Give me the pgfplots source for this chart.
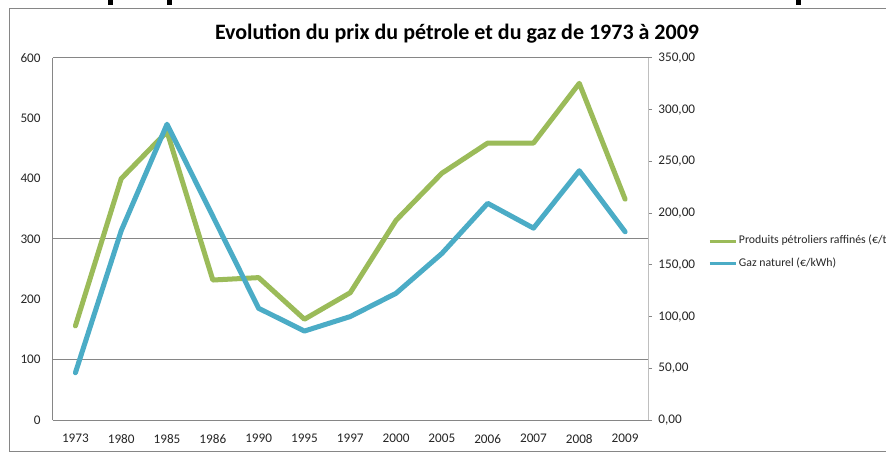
\documentclass[border=0pt]{standalone}
\usepackage{fontspec}
\setmainfont{Carlito}
\usepackage{pgfplots}
\pgfplotsset{compat=1.18}
\definecolor{cgreen}{HTML}{9BBB59}
\definecolor{cblue}{HTML}{4BACC6}
\definecolor{cgrid}{HTML}{868686}
\definecolor{caxis2}{HTML}{BFBFBF}
\begin{document}
\begin{tikzpicture}
\useasboundingbox (0,0) rectangle (443pt,-226.5pt);
\fill[white] (0,0) rectangle (443pt,-226.5pt);
\fill[black] (54pt,0pt) rectangle (56.25pt,-2.5pt);
\fill[black] (83.5pt,0pt) rectangle (85.75pt,-2.5pt);
\fill[black] (398pt,0pt) rectangle (400.25pt,-2.5pt);
\draw[cgrid, line width=0.5pt] (4.6pt,-4.3pt) rectangle (450pt,-225.8pt);
\node[anchor=base, inner sep=0pt, font=\fontsize{11}{13}\selectfont\bfseries] at (228.5pt,-19.65pt) {Evolution du prix du pétrole et du gaz de 1973 à 2009};

\begin{axis}[
  at={(26.25pt,-210pt)}, anchor=south west,
  width=297.75pt, height=181pt, scale only axis,
  xmin=-0.5, xmax=12.5, ymin=0, ymax=600,
  xtick={0,...,12},
  xticklabels={1973,1980,1985,1986,1990,1995,1997,2000,2005,2006,2007,2008,2009},
  ytick={0,100,...,600},
  axis x line*=bottom, axis y line*=left,
  axis line style={cgrid, line width=0.5pt, -},
  major tick length=0pt,
  tick style={draw=none},
  ticklabel style={font=\fontsize{6.6}{7}\selectfont, text=black!85},
  /pgf/number format/assume math mode=true,
  xticklabel style={inner sep=0pt, anchor=north, yshift=-7pt},
  yticklabel style={inner sep=0pt, anchor=east, xshift=-5.75pt},
  extra y ticks={100,300,600},
  extra y tick labels={},
  extra y tick style={grid=major, major grid style={cgrid, line width=0.5pt}},
  clip=false,
]
\addplot[cgreen, line width=2.5pt, line join=round, line cap=round] coordinates {
  (0,156) (1,400) (2,478) (3,232) (4,236) (5,167) (6,211) (7,331) (8,409) (9,459) (10,459) (11,558) (12,366)
};
\end{axis}

\begin{axis}[
  at={(26.25pt,-210pt)}, anchor=south west,
  width=297.75pt, height=181pt, scale only axis,
  xmin=-0.5, xmax=12.5, ymin=0, ymax=350,
  axis x line=none, axis y line*=right,
  axis line style={caxis2, line width=0.5pt, -},
  ytick={0,50,...,350},
  yticklabels={{0,00},{50,00},{100,00},{150,00},{200,00},{250,00},{300,00},{350,00}},
  tick align=outside, major tick length=2pt,
  tick style={cgrid, line width=0.5pt},
  yticklabel style={font=\fontsize{6.6}{7}\selectfont, text=black!85, inner sep=0pt, anchor=west, xshift=3pt},
  clip=false,
  legend style={draw=none, fill=none, inner sep=0pt, at={(1.1008,0.4635)}, anchor=west,
    font=\fontsize{5.9}{7}\selectfont, text=black!85, row sep=3.8pt, column sep=0pt,
    nodes={inner sep=0.75pt}},
  legend cell align=left,
  legend image code/.code={\draw[#1, line width=1.5pt, line cap=butt] (0pt,0pt) -- (13pt,0pt);},
]
\addlegendimage{cgreen}
\addlegendentry{Produits pétroliers raffinés (€/t)}
\addplot[cblue, line width=2.5pt, line join=round, line cap=round] coordinates {
  (0,45.7) (1,183) (2,286) (3,197) (4,108) (5,86) (6,100) (7,122.5) (8,161) (9,209.5) (10,185.5) (11,241) (12,182)
};
\addlegendentry{Gaz naturel (€/kWh)}
\end{axis}
\end{tikzpicture}
\end{document}
